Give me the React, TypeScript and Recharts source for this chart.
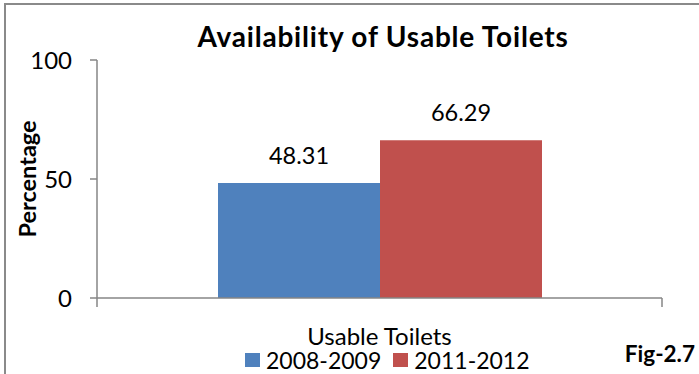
import { BarChart, Bar, XAxis, YAxis, Legend, LabelList } from "recharts";

const categories = ["Usable Toilets"];
const series2008 = [48.31];
const series2011 = [66.29];
const seriesNames = ["2008-2009", "2011-2012"];
const seriesColors = ["#4F81BD", "#C0504D"];
const yTicks = [0, 50, 100];

const data = categories.map((name, i) => ({
    name,
    s2008: series2008[i],
    s2011: series2011[i],
}));

const FONT = "Lato, 'Open Sans', sans-serif";
const AXIS = "#868686";

// category tick: boundary marks at both ends plus the label underneath
const CategoryTick = (props: any) => {
    const { x, y, payload } = props;
    const half = payload.offset || 0;
    return (
        <g>
            <line x1={x - half} y1={y} x2={x - half} y2={y + 9} stroke={AXIS} strokeWidth={1.5} />
            <line x1={x + half} y1={y} x2={x + half} y2={y + 9} stroke={AXIS} strokeWidth={1.5} />
            <text x={x} y={y + 47} textAnchor="middle" fontSize={24} fill="#000" fontFamily={FONT}>
                {payload.value}
            </text>
        </g>
    );
};

const LegendContent = () => (
    <div style={{ display: "flex", alignItems: "center", fontFamily: FONT, fontSize: 23, color: "#000", whiteSpace: "nowrap", lineHeight: "22px" }}>
        {seriesNames.map((n, i) => (
            <span key={n} style={{ display: "flex", alignItems: "center", marginRight: 12 }}>
                <span style={{ display: "inline-block", width: 15, height: 14, background: seriesColors[i], marginRight: 6 }} />
                {n}
            </span>
        ))}
    </div>
);

const App = () => {
    return (
        <div style={{ position: "absolute", left: 0, top: 0, width: 699, height: 374, overflow: "hidden", background: "#fff" }}>
            {/* outer frame */}
            <div style={{ position: "absolute", left: 4, top: 3, width: 740, height: 420, border: "2px solid #8a8a8a" }} />

            <div style={{ position: "absolute", left: 0, top: 19, width: 766, textAlign: "center", fontFamily: FONT, fontWeight: 700, fontSize: 28, letterSpacing: 0.8, lineHeight: "34px", color: "#000" }}>
                Availability of Usable Toilets
            </div>

            <BarChart
                width={699}
                height={374}
                data={data}
                margin={{ top: 60, right: 37, bottom: 0, left: 37 }}
                barCategoryGap={121}
                barGap={0}
                style={{ position: "absolute", left: 0, top: 0 }}
            >
                <XAxis
                    dataKey="name"
                    height={76}
                    stroke={AXIS}
                    strokeWidth={1.5}
                    tickLine={false}
                    tickSize={0}
                    tickMargin={0}
                    tick={<CategoryTick />}
                    interval={0}
                />
                <YAxis
                    width={60}
                    domain={[0, 100]}
                    ticks={yTicks}
                    stroke={AXIS}
                    strokeWidth={1.5}
                    tickSize={7}
                    tickMargin={18}
                    tick={{ fill: "#000", fontSize: 24, fontFamily: FONT }}
                    label={{
                        content: ({ viewBox }: any) => {
                            const cx = viewBox.x - 10;
                            const cy = viewBox.y + viewBox.height / 2;
                            return (
                                <text
                                    x={cx}
                                    y={cy}
                                    transform={`rotate(-90 ${cx} ${cy})`}
                                    textAnchor="middle"
                                    dominantBaseline="central"
                                    fontSize={23.5}
                                    fontWeight={700}
                                    fontFamily={FONT}
                                    fill="#000"
                                >
                                    Percentage
                                </text>
                            );
                        },
                    }}
                />
                <Legend
                    layout="vertical"
                    align="center"
                    verticalAlign="middle"
                    content={<LegendContent />}
                    wrapperStyle={{ top: 349, left: 245, width: 330 }}
                />
                <Bar dataKey="s2008" name={seriesNames[0]} fill={seriesColors[0]} isAnimationActive={false}>
                    <LabelList dataKey="s2008" position="top" offset={19} fontSize={23.5} fill="#000" fontFamily={FONT} />
                </Bar>
                <Bar dataKey="s2011" name={seriesNames[1]} fill={seriesColors[1]} isAnimationActive={false}>
                    <LabelList dataKey="s2011" position="top" offset={19} fontSize={23.5} fill="#000" fontFamily={FONT} />
                </Bar>
            </BarChart>

            <div style={{ position: "absolute", right: 4, top: 341, fontFamily: FONT, fontWeight: 700, fontSize: 22.5, lineHeight: "26px", color: "#000" }}>
                Fig-2.7
            </div>
        </div>
    );
};

export default App;
